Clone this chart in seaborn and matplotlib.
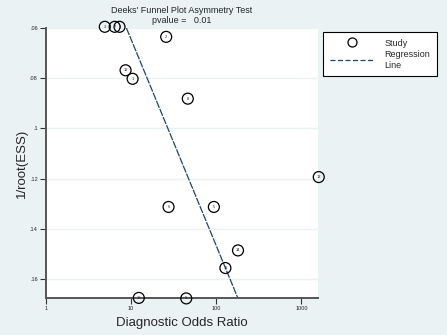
import matplotlib
matplotlib.use("Agg")
import matplotlib.pyplot as plt
import seaborn as sns
import pandas as pd
import numpy as np
from matplotlib.lines import Line2D

# study values (DOR on log axis, 1/root(ESS))
study = ["3", "7", "4", "2", "12", "1", "8", "13", "6", "5", "14", "11", "9", "10"]
dor = [4.9, 6.4, 7.3, 25.8, 8.6, 10.4, 46.3, 1600, 27.5, 93.7, 180, 128, 44.4, 12.3]
inv_ess = [0.0596, 0.0596, 0.0596, 0.0636, 0.0769, 0.0803, 0.0882, 0.1194,
           0.1313, 0.1313, 0.1486, 0.1556, 0.1677, 0.1675]

# regression line end points
reg_dor = [8.8, 179.5]
reg_ess = [0.0601, 0.1676]

yticks = [0.06, 0.08, 0.10, 0.12, 0.14, 0.16]
ytick_labels = [".06", ".08", ".1", ".12", ".14", ".16"]
xticks = [1, 10, 100, 1000]
xtick_labels = ["1", "10", "100", "1000"]

bg = "#eaf2f3"
navy = "#1a476f"

df = pd.DataFrame({"study": study, "dor": dor, "ess": inv_ess})
df_reg = pd.DataFrame({"dor": reg_dor, "ess": reg_ess})

sns.set_style("white")
plt.rcParams["font.family"] = ["Liberation Sans", "DejaVu Sans"]

fig = plt.figure(figsize=(4.47, 3.35), dpi=100, facecolor=bg)
ax = fig.add_axes([0.103, 0.11, 0.608, 0.807])
ax.set_facecolor("white")

for t in yticks:
    ax.axhline(t, color=bg, lw=1.0, zorder=0)

sns.lineplot(data=df_reg, x="dor", y="ess", color=navy, lw=0.9,
             sort=False, estimator=None, ax=ax, zorder=2)
ax.lines[-1].set_dashes((6, 1))

sns.scatterplot(data=df, x="dor", y="ess", s=62, marker="o",
                facecolor="none", edgecolor="black", linewidth=0.9,
                ax=ax, zorder=3, clip_on=False)
for _, r in df.iterrows():
    ax.text(r["dor"], r["ess"], r["study"], fontsize=2.8, ha="center",
            va="center", zorder=4, clip_on=False)

ax.set_xscale("log")
ax.set_xlim(1, 1560)
ax.set_ylim(0.1676, 0.06)
ax.set_xticks(xticks)
ax.set_xticklabels(xtick_labels, fontsize=4)
ax.set_yticks(yticks)
ax.set_yticklabels(ytick_labels, fontsize=4)
ax.minorticks_off()
ax.tick_params(axis="both", direction="out", length=4, width=0.8,
               color="#333333", pad=2, left=True, bottom=True)

for side in ["top", "right"]:
    ax.spines[side].set_visible(False)
for side in ["left", "bottom"]:
    ax.spines[side].set_color("#555555")
    ax.spines[side].set_linewidth(1.4)

ax.set_xlabel("Diagnostic Odds Ratio", fontsize=9.5, labelpad=4)
ax.set_ylabel("1/root(ESS)", fontsize=9.5, labelpad=1)

fig.text(0.407, 0.968, "Deeks' Funnel Plot Asymmetry Test", fontsize=6.5,
         ha="center", va="center")
fig.text(0.407, 0.938, "pvalue =   0.01", fontsize=6.5, ha="center",
         va="center")

handles = [
    Line2D([], [], marker="o", ls="none", markerfacecolor="none",
           markeredgecolor="black", markersize=6.5, markeredgewidth=0.9),
    Line2D([], [], color=navy, lw=0.9, ls=(0, (4, 2))),
]
leg = fig.legend(handles, ["Study", "Regression\nLine"], loc="upper left",
                 bbox_to_anchor=(0.722, 0.905), fontsize=6.5, frameon=True,
                 fancybox=False, edgecolor="black", framealpha=1,
                 handlelength=5, borderpad=0.75, labelspacing=0.3,
                 handletextpad=1.1, borderaxespad=0)
leg.get_frame().set_linewidth(0.8)

fig.savefig("out.png", dpi=100, facecolor=bg)
